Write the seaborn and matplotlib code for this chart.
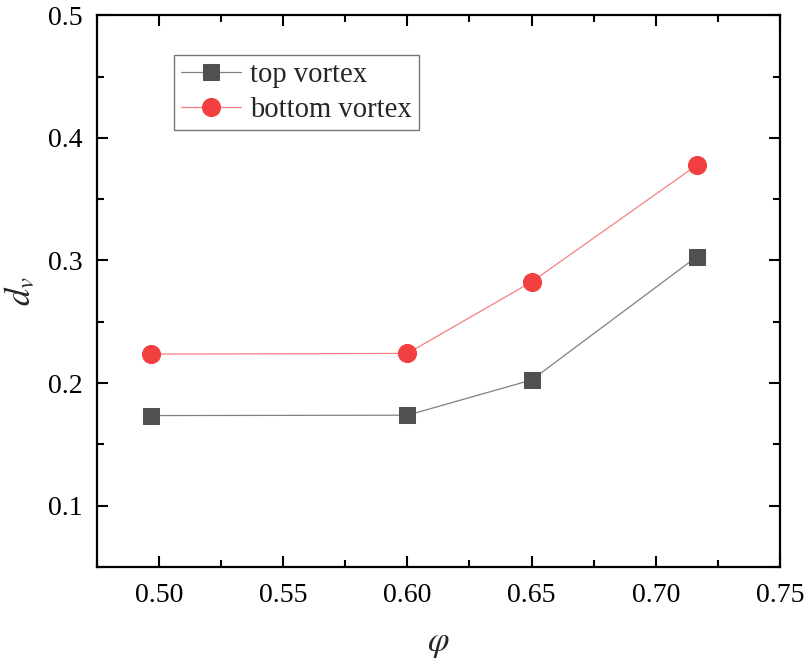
import matplotlib
matplotlib.use("Agg")
import matplotlib.pyplot as plt
import seaborn as sns
import pandas as pd
from matplotlib.ticker import MultipleLocator

phi = [0.497, 0.600, 0.650, 0.7165]
top_vortex = [0.1735, 0.1738, 0.2025, 0.3030]
bottom_vortex = [0.2236, 0.2242, 0.2825, 0.3777]
series_names = ["top vortex", "bottom vortex"]

sns.set_style("ticks")
plt.rcParams["font.family"] = ["Liberation Serif", "DejaVu Serif"]
plt.rcParams["mathtext.fontset"] = "stix"

fig = plt.figure(figsize=(8.07, 6.62), dpi=100)
ax = fig.add_axes([0.120, 0.1435, 0.8465, 0.8335])

df_top = pd.DataFrame({"phi": phi, "dv": top_vortex})
df_bot = pd.DataFrame({"phi": phi, "dv": bottom_vortex})

sns.lineplot(data=df_top, x="phi", y="dv", ax=ax, color="#808080", lw=0.9,
             marker="s", markersize=11.5, markerfacecolor="#505050",
             markeredgecolor="#505050", label=series_names[0], sort=False)
sns.lineplot(data=df_bot, x="phi", y="dv", ax=ax, color="#F58080", lw=0.9,
             marker="o", markersize=13, markerfacecolor="#F23F3F",
             markeredgecolor="#F23F3F", label=series_names[1], sort=False)

ax.set_xlim(0.475, 0.75)
ax.set_ylim(0.05, 0.5)
ax.xaxis.set_minor_locator(MultipleLocator(0.025))
ax.yaxis.set_minor_locator(MultipleLocator(0.05))
ax.set_xticks([0.50, 0.55, 0.60, 0.65, 0.70, 0.75])
ax.set_xticklabels(["0.50", "0.55", "0.60", "0.65", "0.70", "0.75"])
ax.set_yticks([0.1, 0.2, 0.3, 0.4, 0.5])
ax.set_yticklabels(["0.1", "0.2", "0.3", "0.4", "0.5"])

ax.tick_params(which="both", direction="in", top=True, right=True,
               labelsize=20, width=1.5, colors="black")
ax.tick_params(axis="x", pad=11.5)
ax.tick_params(axis="y", pad=10)
ax.tick_params(which="major", length=8)
ax.tick_params(which="minor", length=5)
for s in ax.spines.values():
    s.set_linewidth(1.6)
    s.set_color("black")

ax.set_xlabel(r"$\varphi$", fontsize=25, labelpad=14)
ax.set_ylabel(r"$d_v$", fontsize=25, labelpad=7)

leg = ax.legend(loc="upper left", bbox_to_anchor=(0.113, 0.9275),
                borderaxespad=0, fontsize=20.6, frameon=True, fancybox=False,
                handlelength=2.1, handletextpad=0.3, labelspacing=0.3,
                borderpad=0.25)
leg.get_frame().set_edgecolor("#555555")
leg.get_frame().set_linewidth(1.0)

fig.savefig("out.png", dpi=100)
